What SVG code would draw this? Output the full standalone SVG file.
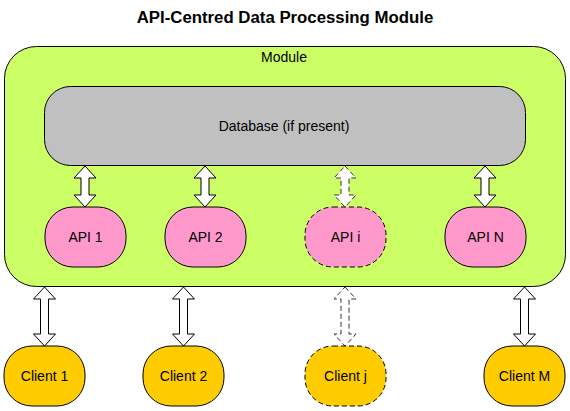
<svg xmlns="http://www.w3.org/2000/svg" width="570" height="411" viewBox="0 0 570 411">
<style>
text{font-family:"Liberation Sans",Arial,sans-serif;fill:#000;text-anchor:middle}
.lbl{font-size:14px}
.title{font-size:16.8px;font-weight:bold}
.api{fill:#FF99CC;stroke:#000;stroke-width:1}
.cli{fill:#FFCC00;stroke:#000;stroke-width:1}
.dash{stroke-dasharray:5,3}
.arr{fill:#fff;stroke:#000;stroke-width:1}
.arrd{fill:#fff;stroke:#333;stroke-width:1;stroke-dasharray:5,3}
</style>
<rect width="570" height="411" fill="#fff"/>
<text class="title" x="285" y="23">API-Centred Data Processing Module</text>
<g id="module">
<rect x="4.5" y="46.5" width="561" height="240" rx="32" ry="32" fill="#CCFF66" stroke="#000"/>
<text class="lbl" x="284" y="62">Module</text>
</g>
<g id="database">
<rect x="44.5" y="86.5" width="481" height="79" rx="26" ry="26" fill="#C0C0C0" stroke="#000"/>
<text class="lbl" x="284" y="131">Database (if present)</text>
</g>
<g id="connectors">
<path class="arr" d="M85,166 L96,178 L89,178 L89,195 L96,195 L85,207 L74,195 L81,195 L81,178 L74,178 Z"/>
<path class="arr" d="M205,166 L216,178 L209,178 L209,195 L216,195 L205,207 L194,195 L201,195 L201,178 L194,178 Z"/>
<path class="arrd" d="M345,166 L356,178 L349,178 L349,195 L356,195 L345,207 L334,195 L341,195 L341,178 L334,178 Z"/>
<path class="arr" d="M485,166 L496,178 L489,178 L489,195 L496,195 L485,207 L474,195 L481,195 L481,178 L474,178 Z"/>
<path class="arr" d="M44.5,287 L55.5,299 L48.5,299 L48.5,334 L55.5,334 L44.5,346 L33.5,334 L40.5,334 L40.5,299 L33.5,299 Z"/>
<path class="arr" d="M183.5,287 L194.5,299 L187.5,299 L187.5,334 L194.5,334 L183.5,346 L172.5,334 L179.5,334 L179.5,299 L172.5,299 Z"/>
<path class="arrd" d="M345,287 L356,299 L349,299 L349,334 L356,334 L345,346 L334,334 L341,334 L341,299 L334,299 Z"/>
<path class="arr" d="M524.5,287 L535.5,299 L528.5,299 L528.5,334 L535.5,334 L524.5,346 L513.5,334 L520.5,334 L520.5,299 L513.5,299 Z"/>
</g>
<g id="api1"><rect class="api" x="45" y="207" width="81" height="60" rx="28" ry="28"/><text class="lbl" x="85.5" y="242">API 1</text></g>
<g id="api2"><rect class="api" x="165" y="207" width="81" height="60" rx="28" ry="28"/><text class="lbl" x="205.5" y="242">API 2</text></g>
<g id="apii"><rect class="api dash" x="305" y="207" width="81" height="60" rx="28" ry="28"/><text class="lbl" x="345.5" y="242">API i</text></g>
<g id="apin"><rect class="api" x="445" y="207" width="81" height="60" rx="28" ry="28"/><text class="lbl" x="485.5" y="242">API N</text></g>
<g id="client1"><rect class="cli" x="4" y="346" width="81" height="60" rx="28" ry="28"/><text class="lbl" x="44.5" y="381">Client 1</text></g>
<g id="client2"><rect class="cli" x="143" y="346" width="81" height="60" rx="28" ry="28"/><text class="lbl" x="183.5" y="381">Client 2</text></g>
<g id="clientj"><rect class="cli dash" x="305" y="346" width="81" height="60" rx="28" ry="28"/><text class="lbl" x="345.5" y="381">Client j</text></g>
<g id="clientm"><rect class="cli" x="484" y="346" width="81" height="60" rx="28" ry="28"/><text class="lbl" x="524.5" y="381">Client M</text></g>
</svg>
